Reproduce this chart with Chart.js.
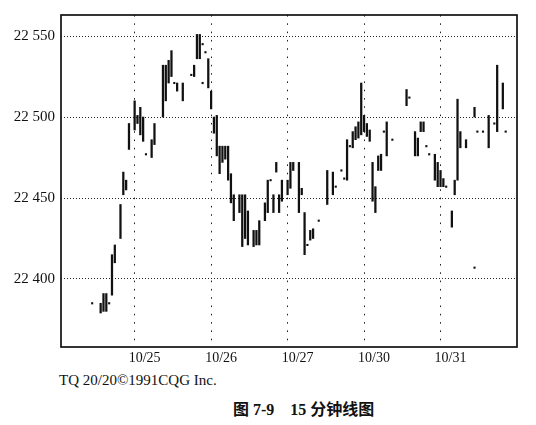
<!DOCTYPE html>
<html>
<head>
<meta charset="utf-8">
<script src="https://cdn.jsdelivr.net/npm/chart.js@4"></script>
<style>
  body { margin: 0; background: #fff; }
  #wrap { position: relative; width: 536px; height: 425px; }
  #chart { position: absolute; left: 0; top: 0; }
  #note { position: absolute; left: 59px; top: 371px; font: 15px "Liberation Serif", serif; line-height: 18px; color: #111; }
  #caption { position: absolute; left: 233px; top: 400px; font: bold 16px "Liberation Serif", "Noto Sans CJK SC", serif; line-height: 20px; color: #111; white-space: pre; }
</style>
</head>
<body>
<div id="wrap">
  <canvas id="chart" width="536" height="370"></canvas>
  <div id="note">TQ 20/20©1991CQG Inc.</div>
  <div id="caption">图 7-9    15 分钟线图</div>
</div>
<script>
// 15-minute bars, x = bar number counted from the 10/25 open (27 bars a day)
const dayLabels = ["10/25", "10/26", "10/27", "10/30", "10/31"];
const dayStarts = [0, 27, 54, 81, 108];
const priceTicks = [22400, 22450, 22500, 22550];

const barIdx = [-12, -11, -10, -8, -7, -5, -4, -3, -2, 0, 1, 2, 3, 6, 7, 10, 11, 12, 13, 15, 17, 21, 22, 23, 26,
    27, 28, 29, 30, 31, 32, 33, 34, 35, 37, 38, 39, 40, 42, 43, 44, 46, 47, 49, 50, 51, 52,
    54, 55, 56, 58, 59, 60, 62, 63, 68, 70, 75, 77, 78, 79, 80,
    81, 82, 83, 84, 85, 86, 87, 89, 96, 99, 100, 101, 102, 106, 107,
    108, 109, 112, 113, 114, 115, 117, 120, 125, 128, 130];
const barLow = [22379, 22380, 22380, 22390, 22410, 22425, 22452, 22455, 22480, 22492, 22496, 22489, 22485, 22475, 22483, 22500, 22510, 22521, 22525, 22516, 22510, 22525, 22536, 22536, 22518,
    22505, 22490, 22476, 22465, 22472, 22474, 22461, 22447, 22436, 22441, 22420, 22425, 22421, 22420, 22421, 22421, 22436, 22441, 22441, 22466, 22441, 22448,
    22452, 22456, 22467, 22441, 22452, 22415, 22424, 22425, 22446, 22452, 22461, 22481, 22486, 22487, 22489,
    22491, 22488, 22485, 22448, 22441, 22467, 22467, 22476, 22507, 22476, 22476, 22491, 22491, 22461, 22457,
    22457, 22457, 22432, 22452, 22461, 22481, 22481, 22500, 22481, 22491, 22505];
const barHigh = [22385, 22391, 22391, 22415, 22421, 22446, 22466, 22461, 22496, 22510, 22501, 22506, 22500, 22486, 22496, 22532, 22532, 22535, 22541, 22521, 22521, 22532, 22551, 22551, 22536,
    22516, 22500, 22501, 22482, 22482, 22482, 22482, 22465, 22452, 22452, 22452, 22452, 22442, 22430, 22430, 22436, 22447, 22461, 22452, 22472, 22452, 22461,
    22461, 22472, 22472, 22472, 22456, 22441, 22430, 22431, 22467, 22466, 22486, 22491, 22494, 22497, 22521,
    22501, 22496, 22492, 22472, 22457, 22476, 22477, 22497, 22517, 22491, 22487, 22497, 22497, 22477, 22472,
    22467, 22462, 22442, 22461, 22511, 22491, 22486, 22506, 22501, 22532, 22521];

// bars with a single price (only a dot is printed)
const dotIdx = [-15, -9, 4, 14, 20, 24, 24, 25, 48, 61, 65, 71, 73, 74, 76, 88, 91, 97, 103, 104, 110, 120, 121, 123, 127, 131];
const dotPrice = [22385, 22385, 22477, 22521, 22526, 22545, 22521, 22540, 22461, 22421, 22436, 22457, 22467, 22462, 22482, 22491, 22486, 22512, 22482, 22477, 22457, 22407, 22491, 22491, 22496, 22491];

// FRAME AROUND THE PLOT
const framePlugin = {
    id: "frame",
    afterDatasetsDraw(chart) {
        const { ctx, chartArea } = chart;
        ctx.save();
        ctx.strokeStyle = "#111";
        ctx.lineWidth = 1.7;
        ctx.strokeRect(chartArea.left, chartArea.top, chartArea.right - chartArea.left, chartArea.bottom - chartArea.top);
        ctx.restore();
    }
};

function spaced(v) {
    return String(v).replace(/\B(?=(\d{3})+(?!\d))/g, " ");
}

const ctx = document.getElementById("chart").getContext("2d");
new Chart(ctx, {
    type: "bar",
    data: {
        datasets: [{
            data: barIdx.map((x, i) => ({ x: x, y: [barLow[i], barHigh[i]] })),
            backgroundColor: "#111",
            borderWidth: 0,
            barThickness: 1.6
        }, {
            type: "scatter",
            data: dotIdx.map((x, i) => ({ x: x, y: dotPrice[i] })),
            backgroundColor: "#111",
            borderWidth: 0,
            pointStyle: "rect",
            pointRadius: 1.5,
            showLine: false
        }]
    },
    options: {
        responsive: false,
        animation: false,
        events: [],
        layout: { padding: { top: 8, right: 19, left: 0, bottom: 0 } },
        plugins: { legend: { display: false }, tooltip: { enabled: false } },
        scales: {
            x: {
                type: "linear",
                min: -26,
                max: 135,
                offset: false,
                grid: { offset: false, color: "#222", lineWidth: 1, drawTicks: false },
                border: { display: false, dash: [1.6, 6.7] },
                afterBuildTicks: scale => { scale.ticks = dayStarts.map(v => ({ value: v })); },
                afterFit: scale => { scale.height = 23; },
                ticks: {
                    padding: 3,
                    labelOffset: 10,
                    maxRotation: 0,
                    autoSkip: false,
                    color: "#111",
                    font: { family: "Liberation Serif", size: 14 },
                    callback: v => dayLabels[dayStarts.indexOf(v)]
                }
            },
            y: {
                min: 22358,
                max: 22563,
                grid: { color: "#222", lineWidth: 1, drawTicks: false },
                border: { display: false, dash: [1, 2] },
                afterBuildTicks: scale => { scale.ticks = priceTicks.map(v => ({ value: v })); },
                afterFit: scale => { scale.width = 61; },
                ticks: {
                    padding: 6,
                    color: "#111",
                    font: { family: "Liberation Serif", size: 15 },
                    callback: v => spaced(v)
                }
            }
        }
    },
    plugins: [framePlugin]
});
</script>
</body>
</html>
